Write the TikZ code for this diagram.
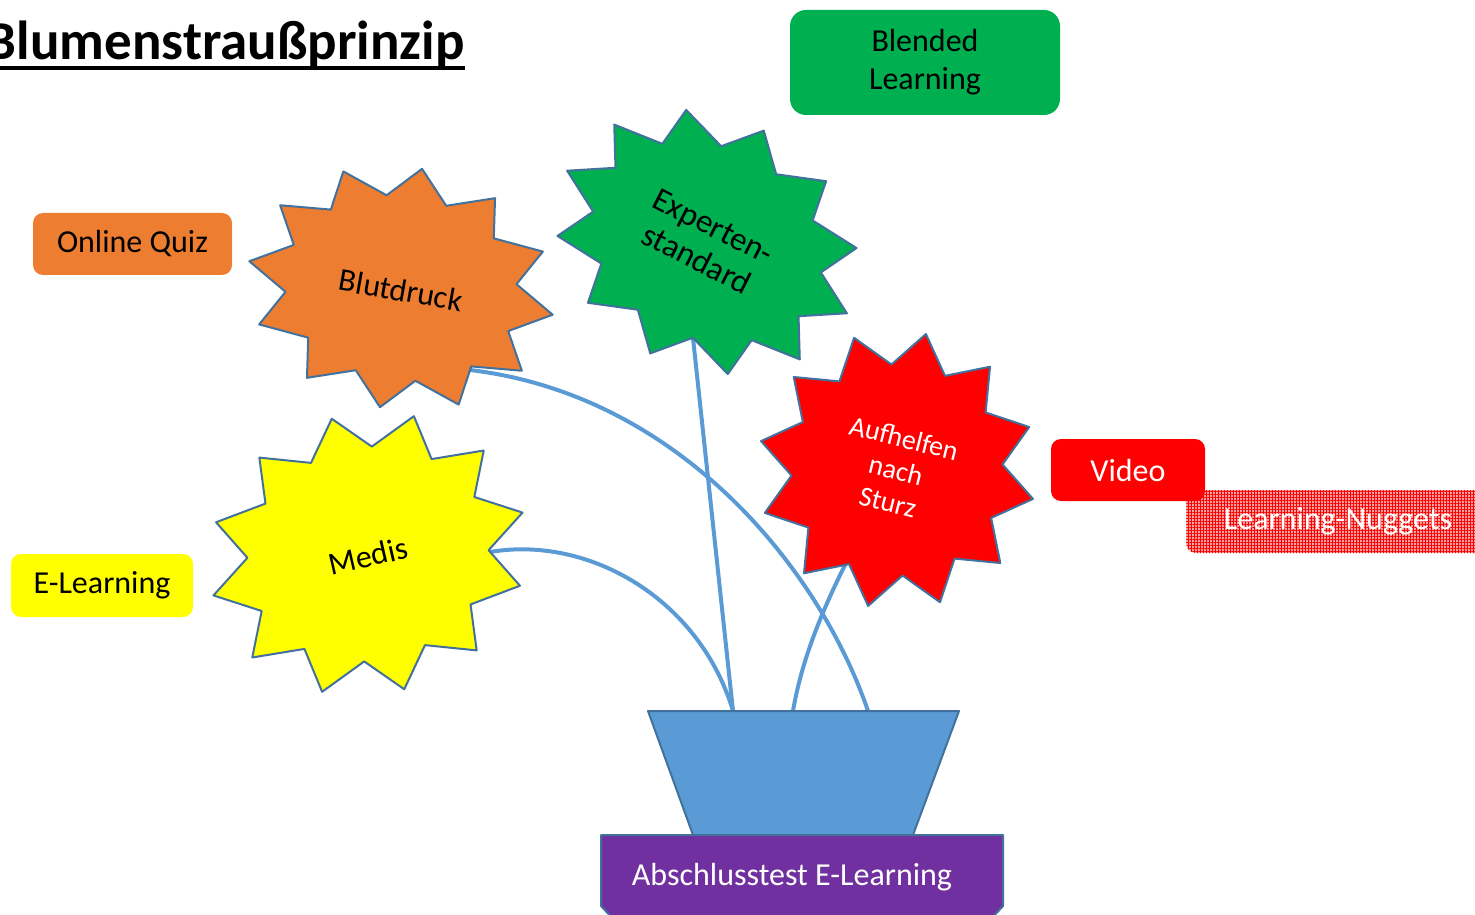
\documentclass[tikz,border=0pt]{standalone}
\usepackage{fontspec}
\setmainfont{Carlito}
\usetikzlibrary{patterns.meta}
\definecolor{quizorange}{HTML}{ED7D31}
\definecolor{leafgreen}{HTML}{00B050}
\definecolor{sunyellow}{HTML}{FFFF00}
\definecolor{alarmred}{HTML}{FF0000}
\definecolor{testpurple}{HTML}{7030A0}
\definecolor{stemblue}{HTML}{5B9BD5}
\definecolor{potedge}{HTML}{41719C}
\definecolor{nuggetpink}{HTML}{F7A0A0}

\begin{document}
\begin{tikzpicture}[x=0.5pt,y=0.5pt,line join=round,font=\fontsize{16}{19}\selectfont,
	petal/.style={draw=potedge,line width=1pt},
	stem/.style={draw=stemblue,line width=2pt,line cap=round},
	tag/.style={rounded corners=5pt,minimum height=31pt,align=center}]
		\useasboundingbox (0,0) rectangle (1475,-914);
		\clip (0,0) rectangle (1475,-914);
		% 12-point star: centre, rx, ry, rotation, colour
		\def\bloom#1#2#3#4#5{%
			\pgfmathsetmacro\irx{0.76*#2}\pgfmathsetmacro\iry{0.76*#3}%
			\draw[petal,fill=#5,shift={#1},rotate=#4] (90:#2 and #3)
			\foreach \k in {0,...,11}{ -- (105+30*\k:{\irx} and {\iry}) -- (120+30*\k:#2 and #3)} -- cycle;}
		\node[font=\bfseries\fontsize{27.5}{33}\selectfont,anchor=base east,inner sep=0] (title) at (465,-60) {Blumenstraußprinzip};
		\draw[line width=1.7pt] ([yshift=-4pt]title.base west)--([yshift=-4pt]title.base east);
		\coordinate (bd-stem) at (470,-370);
		\coordinate (ex-stem) at (693,-338);
		\coordinate (md-stem) at (490,-552);
		\coordinate (au-stem) at (845,-565);
		\coordinate (pot-l) at (733,-711);
		\coordinate (pot-c) at (793,-711);
		\coordinate (pot-r) at (868,-711);
		\draw[stem] (bd-stem) .. controls (680,-395) and (820,-570) .. (pot-r);
		\draw[stem] (ex-stem)--(pot-l);
		\draw[stem] (md-stem) .. controls (590,-535) and (700,-600) .. (pot-l);
		\draw[stem] (au-stem) .. controls (815,-625) and (800,-670) .. (pot-c);
		\draw[petal,fill=stemblue] (648,-711)--(959,-711)--(913,-835)--(693,-835)--cycle;
		\draw[petal,fill=testpurple] (601,-835)--(1003,-835)--(1003,-906)--(990,-920)--(614,-920)--(601,-906)--cycle;
		\node[text=white] (test) at (792,-877) {Abschlusstest E-Learning};
		\bloom{(401,-288)}{154}{121}{-10}{quizorange}
		\bloom{(707,-242)}{157}{125}{-27}{leafgreen}
		\bloom{(368,-554)}{160}{140}{15}{sunyellow}
		\bloom{(897,-470)}{139}{139}{-12}{alarmred}
		\node[rotate=-10] (blutdruck) at (401,-290) {Blutdruck};
		\node[rotate=-27,align=center,font=\fontsize{16.5}{18.5}\selectfont] (experten) at (705,-243) {Experten-\\standard};
		\node[rotate=13] (medis) at (368,-556) {Medis};
		\node[rotate=-14,align=center,text=white,font=\fontsize{14}{16.5}\selectfont] (aufhelfen) at (896,-470) {Aufhelfen\\nach\\Sturz};
		\node[tag,fill=quizorange,minimum width=99.5pt] (quiz) at (132.5,-244) {Online Quiz};
		\node[tag,fill=sunyellow,minimum width=91pt,minimum height=31.5pt] (elearn) at (102,-585.5) {E-Learning};
		\node[tag,fill=leafgreen,rounded corners=8pt,minimum width=135pt,minimum height=52.5pt] (blended) at (925,-62.5) {Blended\\Learning};
		\node[tag,text=white,minimum width=152pt,minimum height=31.5pt,preaction={fill=nuggetpink},
			pattern={Hatch[angle=0,distance=1.5pt,line width=0.45pt]},pattern color=alarmred] (nuggets) at (1338,-521.5) {Learning-Nuggets};
		\node[tag,fill=alarmred,text=white,minimum width=77pt] (video) at (1128,-470) {Video};
		\end{tikzpicture}
\end{document}
